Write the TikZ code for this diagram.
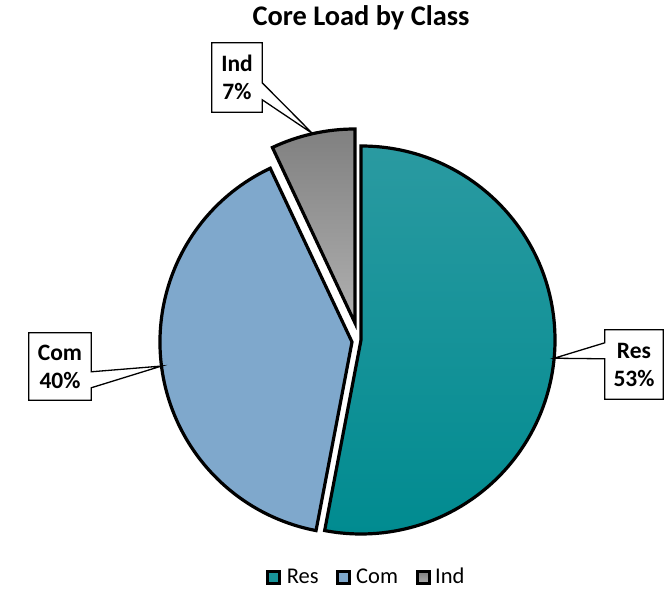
\documentclass[tikz,border=0pt]{standalone}
\usepackage{fontspec}
\setmainfont{Carlito}
\usetikzlibrary{calc}

\definecolor{resTop}{RGB}{42,154,161}
\definecolor{resBot}{RGB}{0,139,144}
\definecolor{comFill}{RGB}{127,168,204}
\definecolor{indTop}{RGB}{128,128,128}
\definecolor{indBot}{RGB}{176,176,176}
\definecolor{resKey}{RGB}{24,148,154}

\begin{document}
\begin{tikzpicture}[x=1pt,y=1pt,
  slice/.style={draw=black, line width=3.2pt},
  lblbox/.style={font=\bfseries\fontsize{23.5}{28}\selectfont, align=center, inner sep=0pt},
  callout/.style={draw=black, line width=1.3pt},
  legsq/.style={draw=black, line width=2.6pt, minimum size=12pt, inner sep=0pt},
  legtxt/.style={font=\fontsize{22.5}{27}\selectfont, anchor=base west, inner sep=0pt}]
\useasboundingbox (0,0) rectangle (672,591);
\fill[white] (0,0) rectangle (672,591);

% title
\node[font=\bfseries\fontsize{28.4}{34}\selectfont, anchor=base, inner sep=0pt] (title) at (361,565) {Core Load by Class};

% apex of each (exploded) slice
\coordinate (resO) at (361,251);
\coordinate (comO) at (352,249);
\coordinate (indO) at (355,268);

% slices: Res 53%, Com 40%, Ind 7%
\path[slice, top color=resTop, bottom color=resBot] (resO) -- ++(90:194) arc[start angle=90, end angle=-100.8, radius=194pt] -- cycle;
\path[slice, fill=comFill] (comO) -- ++(115.2:192) arc[start angle=115.2, end angle=259.2, radius=192pt] -- cycle;
\path[slice, top color=indTop, bottom color=indBot] (indO) -- ++(90:194) arc[start angle=90, end angle=115.2, radius=194pt] -- cycle;

% label pointer tips on the outer arcs
\coordinate (resTip) at ($(resO)+(-5.4:194)$);
\coordinate (comTip) at ($(comO)+(187.2:192)$);
\coordinate (indTip) at ($(indO)+(102.6:194)$);

% data labels
\node[lblbox, minimum width=50pt, minimum height=69pt] (indBox) at (237,513.5) {Ind\\7\%};
\node[lblbox, minimum width=62pt, minimum height=67pt] (comBox) at (60,224.5) {Com\\40\%};
\node[lblbox, minimum width=58pt, minimum height=69pt] (resBox) at (634,226.5) {Res\\53\%};

\draw[callout] (indBox.north west) -- (indBox.north east) -- ($(indBox.north east)+(0,-40)$) -- (indTip)
  -- ($(indBox.north east)+(0,-57)$) -- (indBox.south east) -- (indBox.south west) -- cycle;
\draw[callout] (comBox.north west) -- (comBox.north east) -- ($(comBox.north east)+(0,-39)$) -- (comTip)
  -- ($(comBox.north east)+(0,-55)$) -- (comBox.south east) -- (comBox.south west) -- cycle;
\draw[callout] (resBox.north west) -- (resBox.north east) -- (resBox.south east) -- (resBox.south west)
  -- ($(resBox.north west)+(0,-29)$) -- (resTip) -- ($(resBox.north west)+(0,-13)$) -- cycle;

% legend
\node[legsq, fill=resKey] (keyRes) at (273.3,13.3) {};
\node[legtxt] (keyResTxt) at (286.7,7) {Res};
\node[legsq, fill=comFill] (keyCom) at (343.3,13.3) {};
\node[legtxt] (keyComTxt) at (356,7) {Com};
\node[legsq, top color=indTop, bottom color=indBot] (keyInd) at (423.7,13.3) {};
\node[legtxt] (keyIndTxt) at (435,7) {Ind};
\end{tikzpicture}
\end{document}
